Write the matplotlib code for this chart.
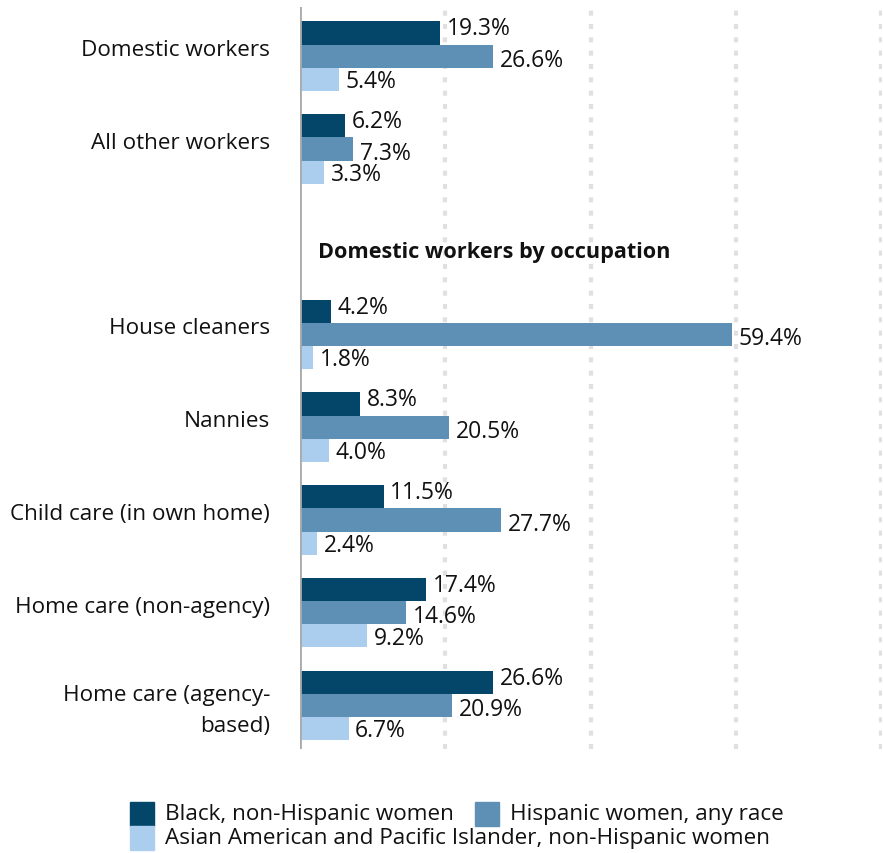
import matplotlib.pyplot as plt
from matplotlib.patches import Rectangle

plt.rcParams['font.family'] = ['Open Sans', 'DejaVu Sans']

categories = ["Domestic workers", "All other workers",
              "House cleaners", "Nannies", "Child care (in own home)",
              "Home care (non-agency)", "Home care (agency-\nbased)"]
slots = [0, 1, 3, 4, 5, 6, 7]
black = [19.3, 6.2, 4.2, 8.3, 11.5, 17.4, 26.6]
hispanic = [26.6, 7.3, 59.4, 20.5, 27.7, 14.6, 20.9]
asian = [5.4, 3.3, 1.8, 4.0, 2.4, 9.2, 6.7]
series_names = ["Black, non-Hispanic women", "Hispanic women, any race",
                "Asian American and Pacific Islander, non-Hispanic women"]
colors = ["#03466a", "#5e90b5", "#abcdee"]

W, H = 883, 854
fs = 16.2
fig = plt.figure(figsize=(W / 100, H / 100), dpi=100)
ax = fig.add_axes([300 / W, 104 / H, 582 / W, 742 / H])

bh = 0.25
label_shift = [-0.05, 0.04, 0.02]
for i, (vals, c) in enumerate(zip([black, hispanic, asian], colors)):
    ys = [s + (i - 1) * bh for s in slots]
    ax.barh(ys, vals, height=bh, color=c, zorder=3)
    for y, v in zip(ys, vals):
        ax.text(v + 0.9, y + label_shift[i], f"{v:.1f}%", va="center", ha="left",
                fontsize=16.5, color="#111111", zorder=4)

for s, cat in zip(slots, categories):
    off = 0.05 if "\n" in cat else -0.07
    ax.text(-4.1, s + off, cat, ha="right", va="center", fontsize=fs,
            color="#111111", linespacing=1.6)

ax.text(2.5, 2.11, "Domestic workers by occupation", ha="left", va="center",
        fontsize=15.6, fontweight="bold", color="#111111")

ax.set_xlim(0, 80.1)
ax.set_ylim(7.47, -0.53)
for g in [20, 40, 60, 80]:
    ax.axvline(g, color="#e0e0e0", lw=3, ls=(0, (1.2, 2.0)), zorder=1)
ax.axvline(0, color="#aaaaaa", lw=2, zorder=5)
ax.set_xticks([])
ax.set_yticks([])
for sp in ax.spines.values():
    sp.set_visible(False)

# legend
def fx(px):
    return px / W

def fy(py):
    return 1 - py / H

leg = [(130, 803, 0, 165, 815), (475, 803, 1, 510, 815), (130, 827, 2, 165, 839)]
for x0, y0, k, tx, ty in leg:
    fig.patches.append(Rectangle((fx(x0), fy(y0 + 24)), 24 / W, 24 / H,
                                 transform=fig.transFigure, color=colors[k]))
    fig.text(fx(tx), fy(ty), series_names[k], ha="left", va="center",
             fontsize=fs, color="#111111")

fig.savefig("out.png", dpi=100)
